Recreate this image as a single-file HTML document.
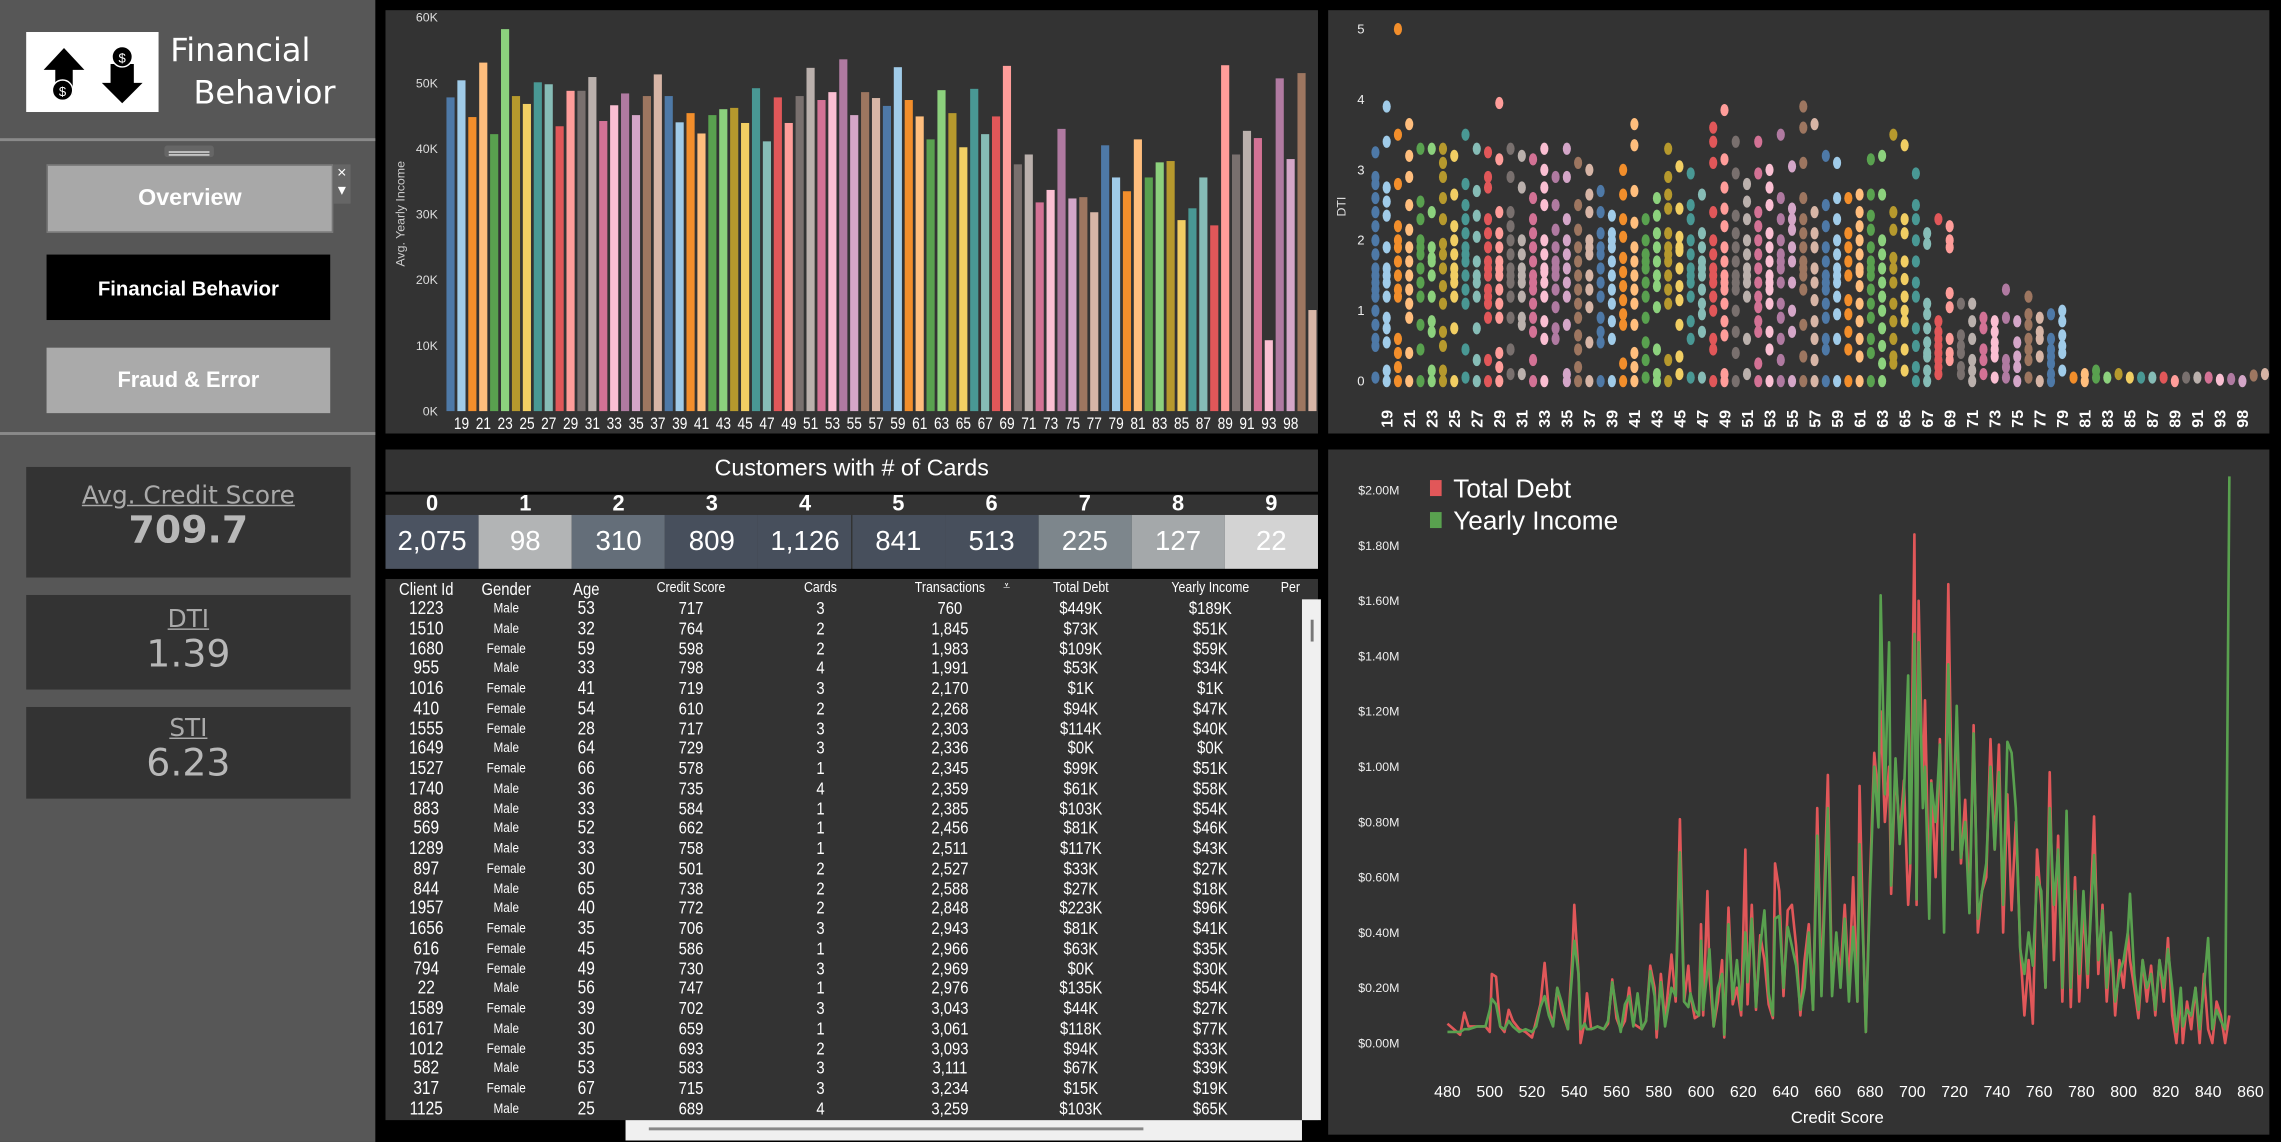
<!DOCTYPE html>
<html><head><meta charset="utf-8">
<style>
html,body{margin:0;padding:0;background:#000;overflow:hidden;width:2281px;height:1142px}
#root{position:absolute;left:0;top:0;width:1568px;height:785px;transform:scale(1.45472);transform-origin:0 0;background:#000;font-family:"Liberation Sans Narrow","Liberation Sans",sans-serif;color:#fff}
.abs{position:absolute}
.panel{position:absolute;background:#333}
.btn{position:absolute;left:32px;width:195px;height:45px;display:flex;align-items:center;justify-content:center;font-family:"Liberation Sans",sans-serif;font-weight:bold;font-size:16px;color:#fff}
.kpi{position:absolute;left:18px;width:223px;background:#333;text-align:center;font-family:"DejaVu Sans","Liberation Sans",sans-serif;color:#aaa}
.kpi .t{text-decoration:underline;font-size:17px;margin-top:10px}
.kpi .v{font-size:26px;font-weight:bold;color:#b8b8b8;line-height:28px}
.cardn{position:absolute;top:0;width:64px;height:14px;text-align:center;font-weight:bold;font-size:15px;line-height:14px}
.cardv{position:absolute;top:14px;width:64px;height:37px;text-align:center;font-size:19px;line-height:37px}
.tc{position:absolute;transform:translateX(-50%) scaleX(0.85);white-space:nowrap}
</style></head>
<body>
<div id="root">
  <div class="abs" style="left:0;top:0;width:258px;height:785px;background:#575757"></div>
  <div class="abs" style="left:18px;top:22px;width:91px;height:55px;background:#fff">
    <svg width="91" height="55" viewBox="0 0 91 55">
      <polygon points="26,11 12,26 20,26 20,43 32,43 32,26 40,26" fill="#000"/>
      <circle cx="25" cy="40" r="7" fill="#000" stroke="#fff" stroke-width="1"/>
      <text x="25" y="44" font-size="9" fill="#fff" text-anchor="middle" font-family="Liberation Sans">$</text>
      <polygon points="58,22 58,35 52,35 66,49 80,35 74,35 74,22" fill="#000"/>
      <circle cx="66" cy="17" r="7" fill="#000" stroke="#fff" stroke-width="1"/>
      <text x="66" y="21" font-size="9" fill="#fff" text-anchor="middle" font-family="Liberation Sans">$</text>
    </svg>
  </div>
  <div class="abs" style="left:117px;top:21px;font-family:'DejaVu Sans',sans-serif;font-size:22px;line-height:29px;color:#fff">Financial<br><span style="padding-left:16px">Behavior</span></div>
  <div class="abs" style="left:0;top:95px;width:258px;height:2px;background:#8a8a8a"></div>
  <div class="abs" style="left:0;top:297px;width:258px;height:2px;background:#8a8a8a"></div>
  <div class="abs" style="left:113px;top:100px;width:34px;height:8px;background:#666;border-radius:2px"></div>
  <div class="abs" style="left:116px;top:104px;width:28px;height:3px;border-top:1px solid #ddd;border-bottom:1px solid #ddd;box-sizing:border-box"></div>
  <div class="btn" style="top:113px;background:#a8a8a8;border:1px solid #777">Overview</div>
  <div class="abs" style="left:229px;top:113px;width:12px;height:27px;background:#666;color:#fff;font-size:11px;text-align:center;line-height:12px">×<br>▾</div>
  <div class="btn" style="top:175px;background:#000;font-size:14px">Financial Behavior</div>
  <div class="btn" style="top:239px;background:#aaa;font-size:15px">Fraud &amp; Error</div>
  <div class="kpi" style="top:321px;height:76px"><div class="t">Avg. Credit Score</div><div class="v">709.7</div></div>
  <div class="kpi" style="top:409px;height:65px"><div class="t" style="margin-top:7px">DTI</div><div class="v" style="font-weight:normal">1.39</div></div>
  <div class="kpi" style="top:486px;height:63px"><div class="t" style="margin-top:5px">STI</div><div class="v" style="font-weight:normal">6.23</div></div>

  <div class="panel" style="left:265px;top:7px;width:641px;height:291px">
    <svg id="barSvg" width="641" height="291" style="position:absolute;left:0;top:0"></svg>
  </div>
  <div class="panel" style="left:913px;top:7px;width:647px;height:291px">
    <svg id="scSvg" width="647" height="291" style="position:absolute;left:0;top:0"></svg>
  </div>
  <div class="panel" style="left:265px;top:309px;width:641px;height:29px;text-align:center;font-size:16px;line-height:27px">Customers with # of Cards</div>
  <div class="panel" style="left:265px;top:340px;width:641px;height:51px" id="cardsPanel"></div>
  <div class="panel" style="left:265px;top:398px;width:641px;height:372px" id="tablePanel"></div>
  <div class="abs" style="left:895px;top:412px;width:13px;height:358px;background:#f0f0f0"><div style="position:absolute;left:6px;top:14px;width:2px;height:15px;background:#777"></div></div>
  <div class="abs" style="left:430px;top:770px;width:465px;height:14px;background:#f0f0f0"><div style="position:absolute;left:16px;top:5px;width:340px;height:2px;background:#888"></div></div>
  <div class="panel" style="left:913px;top:309px;width:647px;height:471px">
    <svg id="lnSvg" width="647" height="471" style="position:absolute;left:0;top:0"></svg>
  </div>
</div>
<script>
const NS='http://www.w3.org/2000/svg';
const palette=['#4e79a7','#a0cbe8','#f28e2b','#ffbe7d','#59a14f','#8cd17d','#b6992d','#f1ce63','#499894','#86bcb6','#e15759','#ff9d9a','#79706e','#bab0ac','#d37295','#fabfd2','#b07aa1','#d4a6c8','#9d7660','#d7b5a6'];
function mk(parent,tag,attrs,text){const e=document.createElementNS(NS,tag);for(const k in attrs)e.setAttribute(k,attrs[k]);if(text!==undefined)e.textContent=text;parent.appendChild(e);return e;}

const ages=[];for(let a=18;a<=94;a++)ages.push(a);ages.push(98,99,100);
const avgIncomeK=[47.8,50.4,44.8,53.1,42.2,58.2,48.0,46.8,50.1,49.8,43.4,48.8,48.8,50.9,44.2,46.6,48.4,45.1,48.0,51.3,48.0,44.0,45.4,42.3,45.1,46.0,46.2,43.9,49.2,41.1,47.8,43.9,48.0,52.3,47.4,48.6,53.6,45.1,48.6,47.7,46.5,52.4,47.4,44.9,41.4,48.9,45.4,40.2,49.1,42.2,44.9,52.6,37.6,39.1,31.8,33.7,43.0,32.4,32.6,30.3,40.5,35.6,33.5,41.4,35.6,37.9,38.1,29.1,30.9,35.6,28.3,52.7,39.1,42.7,41.6,10.8,50.7,38.4,51.5,15.4];
const barTicks=[0,10,20,30,40,50,60];
(function(){
  const svg=document.getElementById('barSvg');
  const x0=41,step=600/ages.length,yb=275.6,yt=4.9;
  const ys=v=>yb-(v/60)*(yb-yt);
  barTicks.forEach(t=>{const e=mk(svg,'text',{x:36,y:ys(t)+3,'text-anchor':'end','font-size':8.5,fill:'#ddd'},t+'K');
    
    });
  const yt2=mk(svg,'text',{x:13,y:140,'text-anchor':'middle','font-size':8.5,fill:'#ccc','font-family':'Liberation Sans',transform:'rotate(-90 13 140)'},'Avg. Yearly Income');
  
  
  ages.forEach((a,i)=>{
    const v=avgIncomeK[i];
    const r=mk(svg,'rect',{x:x0+i*step+0.9,y:ys(v),width:step-1.9,height:yb-ys(v),fill:palette[i%20]});
    
    
    if(i%2===1&&i<=77){const cx=x0+i*step+step/2;const t=mk(svg,'text',{x:cx,y:288,'text-anchor':'middle','font-size':11.5,fill:'#fff',transform:'translate('+cx+' 0) scale(0.82 1) translate('+(-cx)+' 0)'},a);
      
      }
  });
})();

const dtiByAge=[
[3.25,2.9,2.8,2.6,2.4,2.2,2.0,1.8,1.6,1.5,1.4,1.3,1.2,1.0,0.8,0.6,0.5,0.05],
[3.9,3.4,2.75,2.55,2.35,1.9,1.6,1.5,1.4,1.2,0.9,0.75,0.55,0.15,0.0],
[5.0,3.5,2.8,2.2,2.0,1.9,1.7,1.5,1.3,1.2,0.6,0.4,0.2,0.0],
[3.65,3.2,2.9,2.5,2.15,1.9,1.7,1.5,1.3,1.1,0.9,0.4,0.0],
[3.3,2.55,2.3,2.0,1.9,1.8,1.6,1.4,1.2,0.8,0.45,0.0],
[3.3,2.4,1.9,1.75,1.7,1.5,1.2,0.85,0.7,0.15,0.0],
[3.3,3.1,2.9,2.6,2.3,1.95,1.8,1.6,1.35,1.1,0.7,0.5,0.15,0.0],
[3.2,2.65,2.2,2.0,1.8,1.6,1.5,1.4,1.2,0.75,0.0],
[3.5,2.8,2.5,2.3,2.1,1.9,1.8,1.7,1.5,1.3,1.1,0.45,0.05],
[3.3,2.7,2.35,2.05,1.7,1.5,1.4,1.2,0.75,0.3,0.0],
[3.25,2.9,2.75,2.3,2.1,1.9,1.7,1.6,1.5,1.3,1.2,1.1,0.9,0.3,0.0],
[3.95,3.15,2.4,2.1,1.9,1.7,1.6,1.5,1.3,1.1,0.9,0.4,0.2,0.0],
[3.3,2.9,2.4,2.2,2.0,1.8,1.6,1.5,1.4,1.2,0.9,0.45,0.1],
[3.2,2.75,2.0,1.8,1.6,1.5,1.4,1.2,0.9,0.8,0.1],
[3.15,2.6,2.3,2.1,1.9,1.7,1.5,1.4,1.3,1.1,0.9,0.7,0.3,0.0],
[3.3,3.0,2.75,2.5,2.0,1.8,1.6,1.55,1.4,1.2,0.85,0.6,0.0],
[2.9,2.5,2.15,1.9,1.7,1.6,1.5,1.3,1.05,0.75,0.6],
[3.3,2.9,2.3,2.0,1.8,1.6,1.4,1.2,0.8,0.1,0.0],
[3.1,2.5,2.15,1.9,1.7,1.5,1.3,1.1,0.9,0.65,0.45,0.2,0.0],
[3.0,2.65,2.4,2.0,1.9,1.8,1.5,1.3,1.05,0.55,0.0],
[2.7,2.4,2.1,1.9,1.8,1.6,1.4,1.2,0.9,0.7,0.55,0.0],
[2.35,2.1,2.0,1.9,1.7,1.5,1.3,1.1,0.85,0.6,0.0],
[3.0,2.65,2.3,2.05,1.75,1.55,1.35,1.15,0.95,0.8,0.25,0.0],
[3.65,3.35,2.7,2.25,1.9,1.7,1.5,1.3,1.1,0.8,0.4,0.2,0.0],
[2.3,2.0,1.8,1.7,1.6,1.4,1.2,0.9,0.55,0.3,0.05],
[2.6,2.35,2.1,1.9,1.7,1.5,1.35,1.05,0.45,0.1,0.0],
[3.3,2.9,2.65,2.45,2.1,1.9,1.8,1.7,1.5,1.3,1.1,0.3,0.0],
[3.05,2.45,2.05,1.9,1.85,1.6,1.35,1.15,0.8,0.35,0.1],
[2.95,2.5,2.3,2.0,1.8,1.6,1.5,1.4,1.2,0.85,0.6,0.05],
[2.65,2.1,1.9,1.7,1.6,1.5,1.3,1.1,0.95,0.7,0.05],
[3.6,3.4,3.1,2.4,2.0,1.8,1.6,1.5,1.4,1.2,1.0,0.6,0.45,0.0],
[3.85,3.15,2.75,2.45,2.2,1.9,1.7,1.5,1.4,1.3,1.1,0.85,0.65,0.1,0.0],
[3.4,2.95,2.35,2.1,1.9,1.7,1.5,1.4,1.3,1.0,0.7,0.4,0.0],
[2.8,2.55,2.3,2.0,1.8,1.6,1.5,1.4,1.2,0.6,0.1],
[3.4,2.95,2.4,2.2,2.0,1.8,1.6,1.4,1.2,1.05,0.85,0.7,0.25,0.0],
[3.0,2.75,2.5,2.1,1.9,1.7,1.5,1.4,1.3,1.1,0.7,0.45,0.0],
[3.5,2.6,2.3,2.0,1.8,1.7,1.6,1.4,1.1,0.9,0.6,0.3,0.0],
[3.05,2.45,2.3,2.15,1.9,1.7,1.4,1.0,0.7,0.0],
[3.9,3.6,3.1,2.6,2.3,2.1,1.9,1.7,1.6,1.5,1.3,0.8,0.35,0.0],
[3.65,2.4,2.1,1.9,1.6,1.4,1.15,0.85,0.6,0.3,0.0],
[3.2,2.5,2.2,1.9,1.7,1.5,1.4,1.3,1.1,0.9,0.6,0.45,0.0],
[3.1,2.6,2.3,2.0,1.8,1.6,1.5,1.4,1.2,0.95,0.6,0.0],
[2.6,2.1,1.9,1.7,1.5,1.15,0.95,0.7,0.45,0.0],
[2.65,2.4,2.2,2.0,1.8,1.6,1.55,1.35,1.1,0.85,0.6,0.35,0.0],
[3.15,2.65,2.35,2.15,1.9,1.7,1.6,1.5,1.3,1.1,0.9,0.6,0.4,0.0],
[3.2,2.65,2.0,1.8,1.6,1.4,1.2,1.0,0.75,0.5,0.25,0.0],
[3.5,2.4,2.15,1.75,1.6,1.4,1.1,0.85,0.6,0.35,0.25],
[3.35,2.3,2.1,1.7,1.45,1.2,1.0,0.85,0.45,0.15],
[2.95,2.5,2.3,2.0,1.7,1.4,1.2,0.75,0.5,0.2,0.0],
[2.1,1.95,1.1,0.95,0.75,0.55,0.4,0.35,0.15,0.0],
[2.3,0.85,0.7,0.6,0.5,0.4,0.3,0.2,0.1],
[2.2,2.0,1.9,1.25,1.05,0.6,0.4,0.3],
[1.1,0.65,0.5,0.4,0.2,0.1],
[1.1,0.85,0.6,0.3,0.15,0.0],
[0.9,0.75,0.45,0.3,0.1],
[0.85,0.7,0.55,0.45,0.35,0.05],
[1.3,0.9,0.3,0.2,0.05],
[0.85,0.55,0.35,0.2,0.0],
[1.2,0.95,0.8,0.6,0.45,0.3,0.05],
[0.9,0.7,0.6,0.35,0.0],
[0.95,0.6,0.45,0.35,0.25,0.1,0.0],
[1.0,0.85,0.65,0.5,0.4,0.15],
[0.05],[0.1,0.0],[0.15,0.05],[0.05],[0.1],[0.05],[0.05],[0.05],[0.05],[0.0],[0.05],[0.05],[0.05],[0.02],[0.03],[0.0],[0.08],[0.1]
];
const dtiTicks=[0,1,2,3,4,5];
(function(){
  const svg=document.getElementById('scSvg');
  const x0=32.5,step=7.74,yb=255,per=48.4;
  const ys=v=>yb-v*per;
  dtiTicks.forEach(t=>{const e=mk(svg,'text',{x:25,y:ys(t)+3,'text-anchor':'end','font-size':9,fill:'#eee'},t);
    
    });
  const yt=mk(svg,'text',{x:12,y:135,'text-anchor':'middle','font-size':8.5,fill:'#ddd','font-family':'Liberation Sans',transform:'rotate(-90 12 135)'},'DTI');
  
  
  ages.forEach((a,i)=>{
    const cx=x0+i*step;
    (dtiByAge[i]||[]).forEach(v=>{
      const c=mk(svg,'ellipse',{cx:cx,cy:ys(v),rx:2.8,ry:4.2,fill:palette[i%20]});
      
      
    });
    if(i%2===1&&i<=77){const t=mk(svg,'text',{x:cx+4,y:287,'font-size':11,'font-weight':'bold',fill:'#fff','font-family':'Liberation Sans',transform:'rotate(-90 '+(cx+4)+' 287)'},a);
      
      }
  });
})();

const cardCounts=[0,1,2,3,4,5,6,7,8,9];
const cardCustomers=['2,075','98','310','809','1,126','841','513','225','127','22'];
const cardColors=['#4b5361','#b2b4b5','#646e79','#474f5c','#474f5c','#474f5c','#474f5c','#7d868c','#a4a8aa','#d3d3d3'];
(function(){
  const p=document.getElementById('cardsPanel');
  cardCounts.forEach((c,i)=>{
    const n=document.createElement('div');n.className='cardn';n.style.left=(i*64.1)+'px';n.textContent=c;
    
    
    p.appendChild(n);
    const v=document.createElement('div');v.className='cardv';v.style.left=(i*64.1)+'px';v.style.background=cardColors[i];v.textContent=cardCustomers[i];
    
    
    p.appendChild(v);
  });
})();

const tHeaders=['Client Id','Gender','Age','Credit Score','Cards','Transactions','Total Debt','Yearly Income','Per'];
const tCols=[28,83,138,210,299,388,478,567,622];
const tRows=[
['1223','Male','53','717','3','760','$449K','$189K'],['1510','Male','32','764','2','1,845','$73K','$51K'],['1680','Female','59','598','2','1,983','$109K','$59K'],
['955','Male','33','798','4','1,991','$53K','$34K'],['1016','Female','41','719','3','2,170','$1K','$1K'],['410','Female','54','610','2','2,268','$94K','$47K'],
['1555','Female','28','717','3','2,303','$114K','$40K'],['1649','Male','64','729','3','2,336','$0K','$0K'],['1527','Female','66','578','1','2,345','$99K','$51K'],
['1740','Male','36','735','4','2,359','$61K','$58K'],['883','Male','33','584','1','2,385','$103K','$54K'],['569','Male','52','662','1','2,456','$81K','$46K'],
['1289','Male','33','758','1','2,511','$117K','$43K'],['897','Female','30','501','2','2,527','$33K','$27K'],['844','Male','65','738','2','2,588','$27K','$18K'],
['1957','Male','40','772','2','2,848','$223K','$96K'],['1656','Female','35','706','3','2,943','$81K','$41K'],['616','Female','45','586','1','2,966','$63K','$35K'],
['794','Female','49','730','3','2,969','$0K','$30K'],['22','Male','56','747','1','2,976','$135K','$54K'],['1589','Female','39','702','3','3,043','$44K','$27K'],
['1617','Male','30','659','1','3,061','$118K','$77K'],['1012','Female','35','693','2','3,093','$94K','$33K'],['582','Male','53','583','3','3,111','$67K','$39K'],
['317','Female','67','715','3','3,234','$15K','$19K'],['1125','Male','25','689','4','3,259','$103K','$65K']];
(function(){
  const p=document.getElementById('tablePanel');
  tHeaders.forEach((h,i)=>{const d=document.createElement('div');d.className='tc';d.style.left=tCols[i]+'px';d.style.top=(i<3?0:1)+'px';
    d.style.fontSize=(i<3?'12px':'10px');d.textContent=h;
    
    
    p.appendChild(d);});
  const ic=document.createElement('div');ic.className='tc';ic.style.left='427px';ic.style.top='0px';ic.style.fontSize='10px';ic.textContent='⩡';
  
  
  p.appendChild(ic);
  tRows.forEach((r,ri)=>{
    r.forEach((c,ci)=>{const d=document.createElement('div');d.className='tc';d.style.left=tCols[ci]+'px';
      d.style.top=(13+ri*13.76)+'px';d.style.fontSize=(ci===1?'9.5px':'12.5px');if(ci===1)d.style.marginTop='2px';
      if(ci>=3)d.style.fontSize='12px';
      d.textContent=c;
      
      
      p.appendChild(d);});
  });
})();

const creditScores=[480,483,486,488,490,494,498,500,501,503,505,507,509,511,514,517,520,522,524,526,528,530,532,534,537,539,540,542,543,545,546,548,551,554,556,558,560,562,564,566,568,570,572,574,576,578,579,581,583,586,588,590,592,594,595,597,599,600,601,603,604,606,608,610,611,613,615,617,619,621,622,624,626,628,630,632,634,635,637,639,641,643,645,647,649,651,653,655,657,660,662,664,666,668,670,672,674,675,677,678,680,682,684,685,687,689,690,692,694,696,698,699,701,702,703,705,706,708,709,711,713,715,717,719,721,723,725,727,729,731,733,735,737,739,741,743,745,747,749,751,753,755,757,759,761,763,765,767,769,771,773,775,777,779,781,783,786,788,790,792,794,796,798,800,802,803,805,807,809,811,813,815,817,819,821,823,825,827,828,830,832,834,836,838,840,842,844,846,848,850];
const totalDebtM=[.07,.05,.03,.11,.06,.06,.06,.04,.25,.24,.06,.04,.12,.08,.05,.04,.02,.08,.14,.29,.12,.07,.20,.12,.05,.30,.50,.25,.00,.08,.18,.05,.06,.05,.07,.23,.09,.05,.08,.20,.07,.06,.05,.08,.28,.20,.02,.25,.08,.32,.15,.81,.15,.28,.18,.09,.10,.43,.10,.55,.25,.06,.15,.30,.02,.49,.14,.20,.10,.70,.14,.50,.12,.39,.30,.14,.09,.65,.55,.17,.48,.50,.35,.10,.30,.43,.12,.85,.20,.97,.20,.38,.25,.50,.20,.60,.15,.93,.30,.04,.60,1.05,.88,1.20,.80,1.00,.54,1.00,.75,.95,.50,.63,1.84,.50,1.60,.90,1.24,.50,.95,.60,1.10,.55,1.66,.70,1.18,.65,.88,.50,1.15,.40,.55,.60,1.10,.70,1.08,.40,.90,.48,.80,.35,.10,.30,.07,.70,.50,.20,.98,.30,.75,.15,.70,.13,.60,.15,.50,.20,.82,.25,.50,.15,.38,.10,.30,.20,.40,.30,.20,.09,.30,.15,.28,.10,.30,.15,.38,.10,.00,.18,.00,.15,.05,.20,.00,.25,.05,.00,.15,.10,.00,.10];
const yearlyIncomeM=[.04,.04,.04,.05,.05,.06,.06,.12,.16,.14,.06,.05,.08,.06,.04,.05,.04,.06,.13,.17,.10,.06,.20,.15,.05,.25,.37,.25,.05,.07,.05,.05,.06,.05,.08,.22,.12,.04,.14,.17,.06,.18,.05,.08,.26,.17,.05,.22,.06,.20,.17,.69,.15,.13,.18,.12,.10,.37,.12,.26,.34,.06,.20,.25,.03,.43,.16,.30,.12,.40,.22,.45,.13,.35,.48,.18,.10,.45,.46,.20,.42,.35,.28,.12,.20,.40,.12,.75,.17,.85,.17,.40,.20,.45,.15,.42,.15,.72,.30,.04,.55,1.00,.78,1.62,.90,1.45,.57,1.03,.72,.90,1.33,.65,1.48,.52,1.45,.85,1.00,.45,.94,.80,1.08,.40,1.37,.70,1.22,.67,.80,.47,1.12,.45,.55,.65,1.00,.70,.98,.50,1.09,1.05,.85,.34,.25,.40,.28,.60,.55,.20,.85,.50,.70,.20,.84,.20,.55,.25,.55,.25,.68,.30,.48,.20,.40,.15,.25,.30,.40,.54,.25,.12,.30,.20,.25,.12,.30,.20,.34,.20,.04,.20,.06,.12,.10,.20,.05,.20,.38,.05,.12,.08,.05,2.05];
const moneyTicks=[0,0.2,0.4,0.6,0.8,1.0,1.2,1.4,1.6,1.8,2.0];
const scoreTicks=[480,500,520,540,560,580,600,620,640,660,680,700,720,740,760,780,800,820,840,860];
(function(){
  const svg=document.getElementById('lnSvg');
  const xs=s=>82+(s-480)*1.4526;
  const ys=v=>408-v*190;
  moneyTicks.forEach(t=>{const e=mk(svg,'text',{x:49,y:ys(t)+3,'text-anchor':'end','font-size':8.5,fill:'#eee'},'$'+t.toFixed(2)+'M');
    
    });
  scoreTicks.forEach(t=>{const e=mk(svg,'text',{x:xs(t),y:445,'text-anchor':'middle','font-size':11,fill:'#fff'},t);
    
    });
  const xt=mk(svg,'text',{x:350,y:463,'text-anchor':'middle','font-size':11.5,fill:'#fff'},'Credit Score');
  
  
  const pts=arr=>creditScores.map((s,i)=>xs(s).toFixed(1)+','+ys(arr[i]).toFixed(1)).join(' ');
  const l1=mk(svg,'polyline',{points:pts(totalDebtM),fill:'none',stroke:'#e15759','stroke-width':1.8,'stroke-linejoin':'round'});
  
  
  const l2=mk(svg,'polyline',{points:pts(yearlyIncomeM),fill:'none',stroke:'#59a14f','stroke-width':1.8,'stroke-linejoin':'round'});
  
  
  const g1=mk(svg,'g',{});
  
  
  mk(g1,'rect',{x:70,y:21,width:8,height:11,fill:'#e15759'});
  mk(g1,'text',{x:86,y:33,'font-size':18,fill:'#fff'},'Total Debt');
  const g2=mk(svg,'g',{});
  
  
  mk(g2,'rect',{x:70,y:43,width:8,height:11,fill:'#59a14f'});
  mk(g2,'text',{x:86,y:55,'font-size':18,fill:'#fff'},'Yearly Income');
})();
</script>
</body></html>
